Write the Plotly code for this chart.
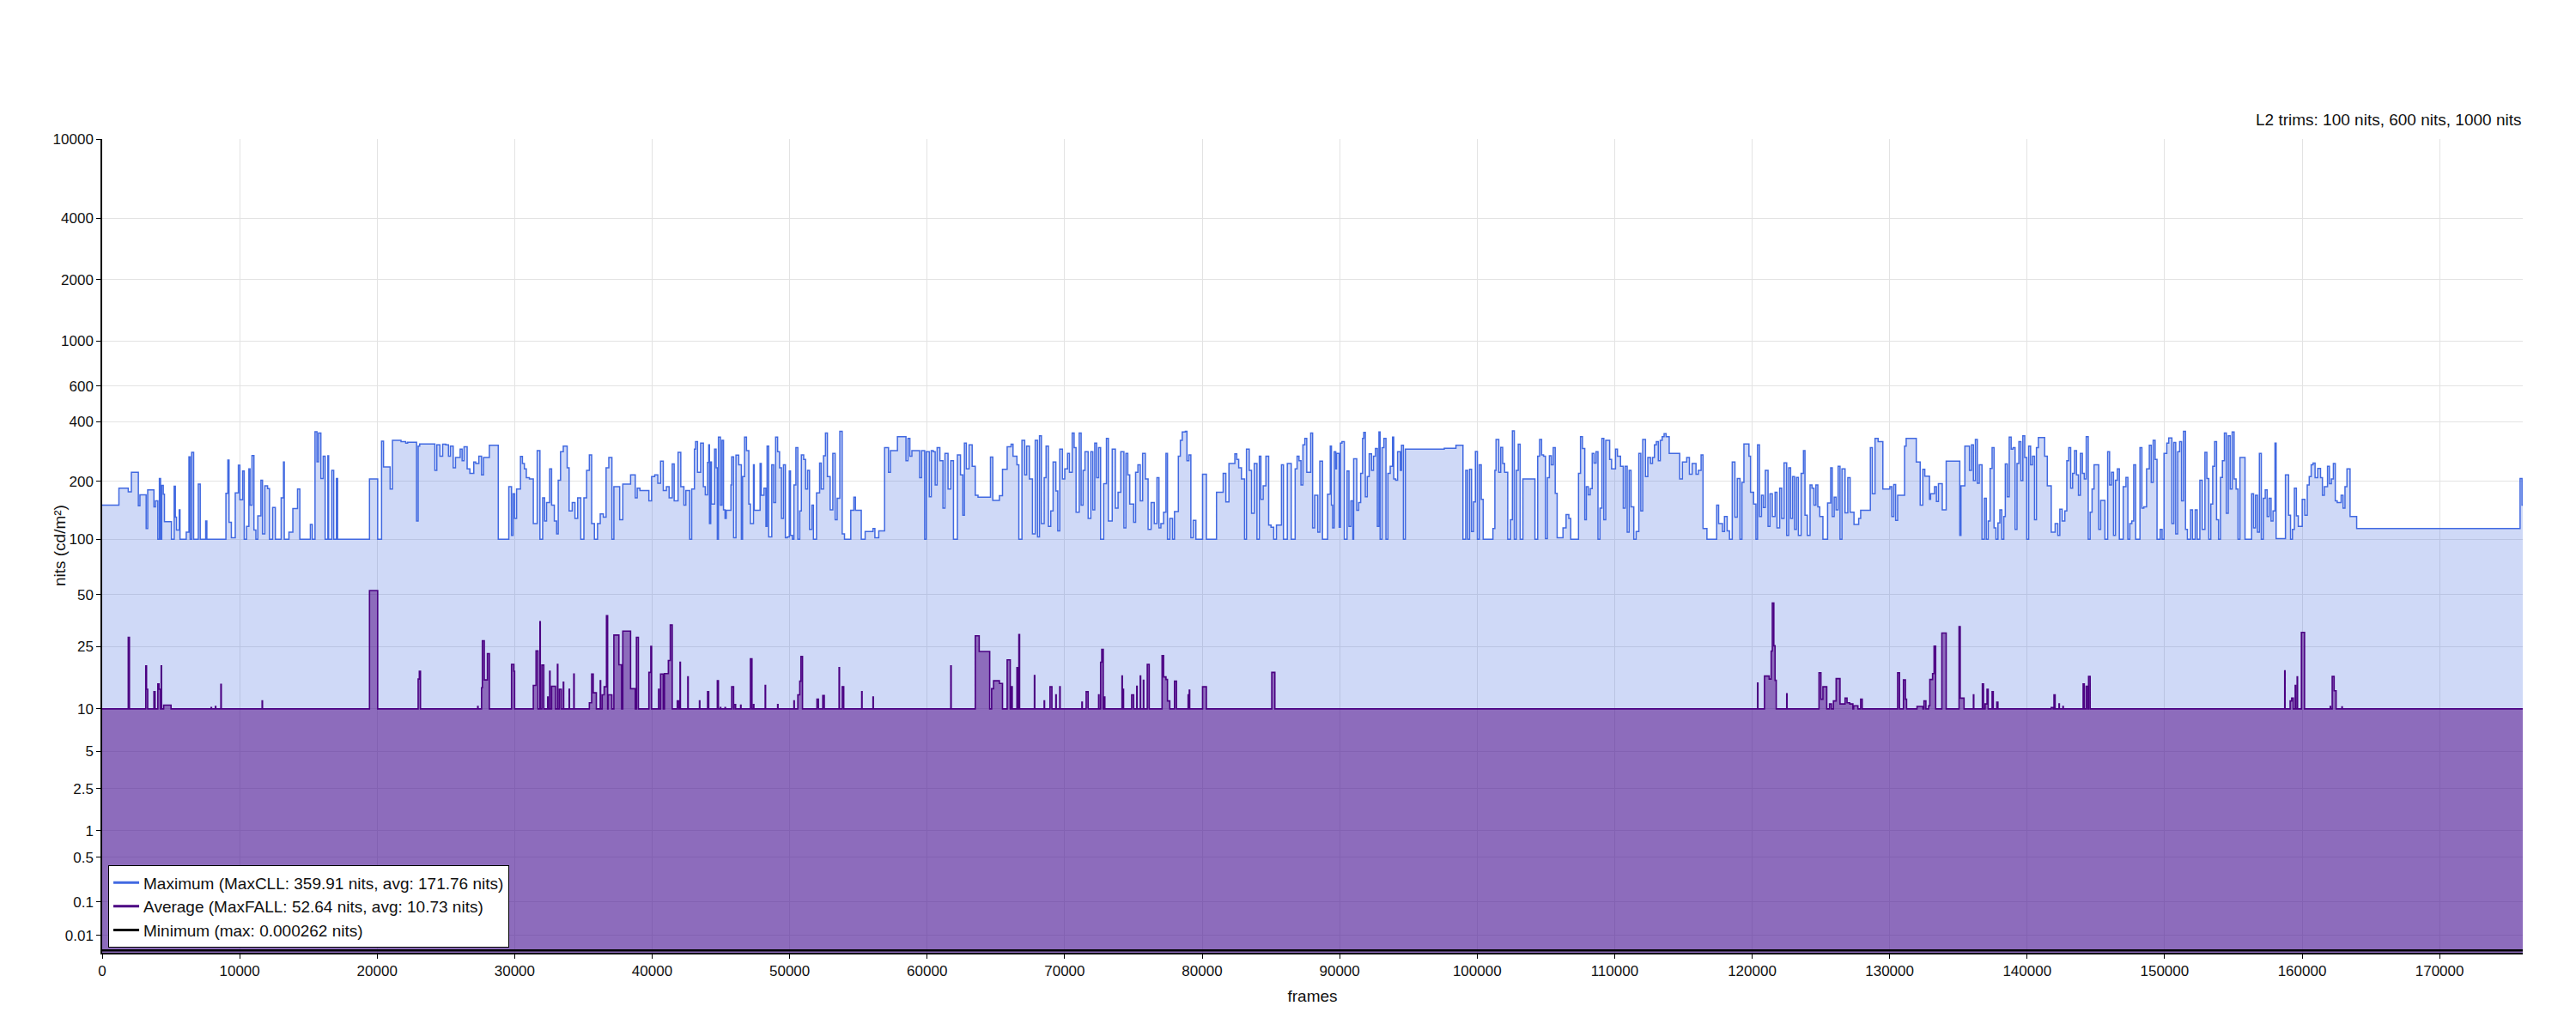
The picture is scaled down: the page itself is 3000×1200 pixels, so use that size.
import numpy as np
import plotly.graph_objects as go

N_FRAMES = 176050

# y axis ticks (nits), drawn on a PQ scale
y_ticks = [10000, 4000, 2000, 1000, 600, 400, 200, 100, 50, 25, 10, 5, 2.5, 1, 0.5, 0.1, 0.01]
y_tick_text = ["10000", "4000", "2000", "1000", "600", "400", "200", "100", "50", "25",
               "10", "5", "2.5", "1", "0.5", "0.1", "0.01"]
x_ticks = list(range(0, 170001, 10000))

# Maximum per frame, as (first frame, nits) steps
max_steps_0_44k = [
    (0, 151), (1217, 185), (1896, 177), (2123, 223), (2632, 150), (2745, 171), (3198, 114), (3311, 181),
    (3764, 148), (3877, 159), (4047, 100), (4160, 207), (4245, 100), (4330, 191), (4443, 172), (4528, 124),
    (5037, 100), (5236, 189), (5320, 131), (5405, 112), (5603, 143), (5660, 100), (6113, 109), (6311, 267),
    (6396, 100), (6509, 281), (6651, 100), (6990, 194), (7132, 100), (7528, 125), (7613, 100), (9000, 174),
    (9141, 257), (9226, 123), (9396, 102), (9679, 175), (9905, 242), (10018, 161), (10216, 226), (10330, 100),
    (10500, 117), (10669, 232), (10754, 151), (10896, 271), (11037, 112), (11179, 100), (11320, 133),
    (11546, 203), (11660, 107), (11829, 190), (12028, 184), (12169, 100), (12395, 147), (12594, 100),
    (13018, 165), (13188, 251), (13244, 100), (13584, 109), (13867, 145), (14207, 183), (14376, 100),
    (15141, 120), (15282, 100), (15480, 357), (15622, 252), (15735, 351), (15905, 207), (16074, 269),
    (16216, 100), (16414, 270), (16471, 100), (16697, 228), (16839, 100), (17037, 207), (17122, 100),
    (19442, 206), (20036, 100), (20319, 320), (20461, 237), (20942, 183), (21112, 323), (21734, 318),
    (22074, 313), (22216, 316), (22866, 125), (22980, 302), (23093, 310), (24196, 228), (24338, 307),
    (24564, 269), (24763, 309), (24989, 307), (25187, 269), (25329, 302), (25527, 235), (25696, 265),
    (26036, 292), (26178, 255), (26319, 300), (26545, 232), (26744, 220), (27027, 251), (27168, 247),
    (27394, 269), (27593, 216), (27734, 265), (28159, 305), (28809, 100), (29574, 188), (29772, 105),
    (29885, 173), (29998, 129), (30140, 183), (30423, 268), (30564, 247), (30706, 232), (30847, 209),
    (31073, 206), (31356, 121), (31639, 287), (31838, 100), (32036, 165), (32177, 125), (32319, 156),
    (32545, 232), (32687, 151), (32885, 125), (33054, 107), (33168, 203), (33337, 283), (33536, 302),
    (33819, 235), (33960, 141), (34186, 156), (34385, 129), (34583, 165), (34809, 100), (35035, 165),
    (35234, 228), (35432, 273), (35601, 121), (35800, 100), (36026, 121), (36224, 136), (36450, 131),
    (36649, 235), (36847, 265), (37073, 100), (37215, 188), (37639, 127), (37865, 194), (38431, 216),
    (38771, 165), (38913, 185), (39111, 180), (39762, 159), (39960, 212), (40186, 216), (40412, 196),
    (40611, 254), (40809, 180), (41035, 188), (41233, 165), (41460, 246), (41601, 159), (41884, 281),
    (42082, 188), (42309, 151), (42450, 180), (42733, 100), (42875, 183), (43073, 292), (43158, 318),
    (43300, 223), (43526, 313), (43724, 188), (43865, 171),
]
max_steps_44k_88k = [
    (44030, 250), (44115, 307), (44170, 121), (44260, 251), (44315, 153), (44540, 292), (44650, 235),
    (44740, 100), (44820, 335), (44965, 151), (45080, 323), (45190, 143), (45300, 129), (45390, 142),
    (45730, 192), (45785, 267), (45925, 102), (46095, 272), (46295, 243), (46490, 100), (46575, 212),
    (46720, 335), (46860, 287), (47030, 153), (47145, 121), (47370, 243), (47425, 142), (47850, 247),
    (47935, 170), (48135, 185), (48275, 117), (48360, 302), (48475, 103), (48700, 243), (48840, 156),
    (48980, 335), (49125, 283), (49265, 235), (49405, 129), (49550, 243), (49690, 102), (49830, 103),
    (49975, 226), (50060, 105), (50200, 100), (50310, 192), (50455, 297), (50595, 100), (50735, 141),
    (50850, 273), (51020, 259), (51160, 183), (51305, 228), (51445, 113), (51615, 151), (51730, 100),
    (51955, 175), (52180, 248), (52295, 183), (52465, 270), (52605, 351), (52745, 212), (52945, 143),
    (53140, 278), (53310, 127), (53455, 164), (53650, 358), (53820, 107), (53990, 100), (54445, 142),
    (54670, 166), (54785, 142), (55210, 100), (55490, 110), (56060, 114), (56200, 102), (56480, 111),
    (56905, 297), (57190, 223), (57330, 287), (57840, 337), (58460, 255), (58605, 330), (58745, 269),
    (58890, 287), (59455, 209), (59595, 287), (59820, 100), (59935, 283), (60160, 167), (60300, 287),
    (60445, 283), (60585, 192), (60725, 297), (60925, 255), (61150, 146), (61295, 278), (61520, 183),
    (61720, 255), (61915, 100), (62200, 273), (62425, 216), (62595, 134), (62710, 313), (62850, 232),
    (63050, 307), (63275, 239), (63500, 170), (63700, 166), (64605, 266), (64775, 160), (65255, 169),
    (65480, 231), (65820, 300), (66105, 309), (66245, 269), (66530, 243), (66670, 100), (66895, 323),
    (67095, 216), (67235, 302), (67435, 206), (67660, 107), (67860, 323), (68030, 103), (68170, 340),
    (68310, 121), (68510, 209), (68650, 302), (68820, 117), (68990, 141), (69160, 251), (69360, 179),
    (69500, 111), (69645, 292), (69840, 206), (70010, 232), (70210, 278), (70350, 223), (70550, 351),
    (70690, 297), (70830, 139), (71060, 351), (71200, 151), (71340, 228), (71480, 283), (71710, 129),
    (71905, 283), (72050, 143), (72190, 313), (72330, 209), (72470, 297), (72615, 100), (72840, 195),
    (73040, 330), (73180, 125), (73460, 292), (73690, 146), (73885, 176), (74085, 283), (74310, 115),
    (74455, 278), (74595, 216), (74735, 153), (75020, 123), (75160, 223), (75330, 243), (75500, 159),
    (75670, 278), (75870, 206), (76070, 113), (76290, 156), (76520, 121), (76715, 209), (76860, 115),
    (77000, 121), (77200, 139), (77370, 278), (77480, 100), (77650, 129), (77850, 100), (77990, 140),
    (78270, 269), (78415, 323), (78555, 356), (78780, 358), (78895, 255), (79035, 273), (79180, 102),
    (79350, 126), (79545, 100), (80030, 218), (80310, 100), (81045, 176), (81530, 220), (81725, 157),
    (81950, 247), (82380, 276), (82520, 259), (82660, 235), (82860, 206), (83085, 100), (83225, 292),
    (83425, 228), (83595, 137), (83790, 247), (83990, 100), (84160, 269), (84275, 162), (84440, 190),
    (84640, 269), (84840, 119), (85010, 116), (85205, 100), (85405, 119), (85770, 243), (85915, 100),
    (86195, 247), (86480, 100), (86765, 232), (86905, 269), (87045, 255), (87190, 192), (87330, 307),
    (87470, 330), (87610, 223), (87895, 351), (88035, 115), (88180, 170),
]
max_steps_88k_132k = [
    (88415, 109), (88560, 254), (88755, 100), (89125, 172), (89320, 302), (89405, 151), (89490, 115),
    (89605, 283), (89720, 232), (89775, 278), (89970, 116), (90055, 313), (90170, 318), (90340, 100),
    (90540, 226), (90680, 117), (90820, 159), (90960, 100), (91020, 261), (91245, 142), (91385, 156),
    (91530, 220), (91670, 330), (91755, 354), (91870, 167), (92010, 212), (92150, 276), (92320, 228),
    (92460, 269), (92605, 294), (92745, 117), (92860, 356), (92945, 100), (93085, 297), (93225, 330),
    (93370, 100), (93510, 220), (93680, 239), (93850, 335), (93935, 206), (94075, 203), (94215, 283),
    (94415, 228), (94500, 305), (94640, 100), (94780, 292), (97610, 295), (98460, 305), (98970, 100),
    (99170, 228), (99310, 100), (99450, 231), (99595, 110), (99735, 157), (99875, 284), (100020, 100),
    (100160, 243), (100300, 162), (100440, 100), (101150, 114), (101290, 228), (101375, 326), (101575, 223),
    (101715, 298), (101860, 247), (102000, 223), (102225, 100), (102425, 127), (102565, 359.91),
    (102705, 100), (102850, 228), (102990, 309), (103130, 100), (103330, 206), (104205, 100), (104405, 269),
    (104545, 326), (104690, 273), (104830, 269), (104970, 101), (105110, 209), (105255, 270), (105395, 243),
    (105535, 297), (105680, 174), (105820, 102), (106245, 115), (106470, 135), (106670, 129), (106810, 100),
    (107375, 220), (107520, 337), (107660, 294), (107830, 127), (107945, 188), (108085, 171), (108225, 184),
    (108370, 278), (108510, 248), (108650, 283), (108790, 100), (108935, 146), (109075, 330), (109215, 127),
    (109355, 323), (109640, 259), (109780, 232), (110065, 292), (110205, 269), (110430, 239), (110630, 146),
    (110770, 239), (110915, 109), (111055, 228), (111195, 148), (111395, 100), (111565, 110), (111760, 278),
    (111905, 141), (112045, 326), (112245, 212), (112415, 265), (112610, 247), (112755, 265), (112895, 307),
    (113035, 318), (113180, 255), (113320, 323), (113460, 337), (113600, 349), (113745, 337), (113970, 278),
    (114735, 206), (114930, 251), (115245, 265), (115440, 218), (115640, 247), (115920, 218), (116090, 228),
    (116290, 273), (116430, 114), (116715, 100), (117425, 151), (117565, 121), (117845, 110), (117990, 132),
    (118185, 111), (118355, 100), (118555, 251), (118750, 131), (118920, 207), (119120, 100), (119260, 198),
    (119405, 310), (119770, 269), (119885, 176), (120110, 153), (120280, 100), (120395, 307), (120535, 132),
    (120680, 170), (120820, 147), (120960, 228), (121160, 117), (121300, 173), (121470, 132), (121670, 176),
    (121810, 115), (122005, 185), (122150, 129), (122320, 249), (122515, 105), (122660, 235), (122800, 129),
    (122940, 212), (123085, 113), (123225, 210), (123365, 105), (123565, 220), (123735, 287), (123845, 134),
    (124015, 105), (124215, 192), (124355, 185), (124500, 151), (124640, 192), (124780, 148), (124920, 132),
    (125150, 100), (125490, 155), (125715, 235), (125830, 132), (125970, 166), (126110, 143), (126255, 239),
    (126395, 100), (126535, 232), (126760, 138), (126960, 209), (127130, 139), (127410, 120), (127750, 129),
    (127895, 142), (128600, 297), (128743, 173), (128940, 330), (129165, 318), (129510, 183), (130015, 188),
    (130160, 132), (130300, 193), (130440, 126), (130585, 170), (131090, 302), (131205, 330), (131940, 251),
    (132225, 151),
]
max_steps_132k_end = [
    (132416, 231), (132560, 213), (132900, 162), (132980, 173), (133265, 188), (133405, 158), (133550, 195),
    (133830, 143), (134115, 254), (135105, 105), (135190, 190), (135475, 302), (135810, 228), (135955, 307),
    (136095, 202), (136240, 326), (136380, 196), (136520, 243), (136720, 100), (136890, 164), (137030, 100),
    (137170, 125), (137310, 233), (137455, 297), (137595, 115), (137735, 100), (137880, 122), (138020, 143),
    (138160, 100), (138305, 132), (138415, 246), (138560, 167), (138700, 335), (138840, 292), (138980, 297),
    (139125, 113), (139265, 247), (139405, 318), (139550, 202), (139690, 340), (139830, 265), (139975, 100),
    (140115, 302), (140255, 243), (140395, 269), (140540, 127), (140680, 297), (140820, 334), (141275, 269),
    (141470, 190), (141755, 109), (142040, 121), (142235, 105), (142380, 144), (142550, 125), (142745, 141),
    (142890, 255), (143030, 297), (143170, 185), (143310, 220), (143450, 287), (143595, 216), (143735, 170),
    (143875, 278), (144020, 220), (144160, 206), (144300, 337), (144445, 100), (144585, 139), (144725, 183),
    (144870, 243), (145210, 113), (145350, 160), (145660, 100), (145860, 283), (146000, 192), (146140, 223),
    (146285, 105), (146425, 203), (146565, 232), (146710, 100), (146990, 188), (147190, 210), (147330, 100),
    (147470, 121), (147615, 125), (147755, 243), (147895, 100), (148210, 297), (148350, 146), (148490, 148),
    (148690, 232), (148890, 305), (149030, 198), (149170, 323), (149310, 259), (149450, 100), (149680, 113),
    (149820, 100), (149960, 278), (150160, 313), (150300, 332), (150530, 121), (150670, 315), (150810, 107),
    (150950, 283), (151095, 318), (151235, 159), (151375, 358), (151520, 113), (151660, 100), (151885, 143),
    (152030, 100), (152225, 143), (152370, 100), (152565, 203), (152735, 113), (152935, 281), (153075, 207),
    (153215, 100), (153360, 153), (153500, 239), (153640, 318), (153780, 127), (153925, 100), (154065, 210),
    (154205, 255), (154350, 351), (154490, 137), (154630, 340), (154775, 183), (154915, 356), (155055, 206),
    (155200, 183), (155340, 100), (155480, 265), (155850, 100), (156330, 173), (156470, 115), (156610, 170),
    (156755, 109), (156895, 278), (157035, 100), (157180, 164), (157320, 181), (157460, 132), (157600, 164),
    (157745, 125), (157885, 141), (158030, 313), (158110, 101), (158790, 216), (159020, 134), (159160, 100),
    (159300, 113), (159440, 185), (159585, 133), (159725, 117), (160010, 162), (160205, 134), (160375, 192),
    (160520, 212), (160660, 243), (160800, 248), (160945, 209), (161140, 233), (161340, 209), (161480, 170),
    (161620, 188), (161850, 239), (161990, 195), (162130, 206), (162275, 247), (162415, 159), (162555, 156),
    (162840, 170), (162980, 146), (163120, 188), (163265, 232), (163490, 132), (163970, 114), (175855, 207),
    (175995, 151),
]

# Average per frame: baseline plus (first frame, last frame, nits) bumps
avg_base = 10.0
avg_bumps = [
    (1896, 1981, 28.3), (3170, 3226, 19.0), (3226, 3311, 13.5), (3764, 3849, 13.0), (4047, 4132, 14.6),
    (4132, 4245, 13.5), (4290, 4320, 19.0), (4471, 5009, 10.6), (7924, 7954, 10.2), (8235, 8265, 10.4),
    (8632, 8662, 14.5), (11631, 11661, 11.3), (19442, 20036, 52.64), (22980, 23065, 15.7),
    (23065, 23150, 17.6), (27310, 27340, 10.4), (27593, 27650, 13.8), (27650, 27790, 27.0),
    (27790, 28017, 15.5), (28017, 28160, 22.6), (29772, 29942, 19.4), (29942, 29998, 17.6),
    (31356, 31555, 14.3), (31555, 31696, 23.5), (31838, 31866, 35.0), (31979, 32120, 19.2),
    (32403, 32433, 12.0), (32545, 32575, 17.6), (32687, 32970, 14.1), (33111, 33141, 19.4),
    (33253, 33394, 13.5), (33536, 33566, 15.0), (33960, 33990, 13.5), (34300, 34330, 16.9),
    (35432, 35600, 11.0), (35600, 35715, 16.9), (35715, 35941, 12.8), (36224, 36254, 15.3),
    (36365, 36507, 12.4), (36507, 36677, 14.0), (36677, 36762, 37.9), (36790, 37073, 12.4),
    (37215, 37582, 29.2), (37582, 37780, 19.3), (37865, 38431, 30.8), (38431, 38771, 13.6),
    (38856, 38998, 28.3), (39762, 39903, 17.3), (39903, 39960, 25.0), (40469, 40499, 13.5),
    (40611, 40809, 16.9), (40894, 41177, 17.0), (41177, 41318, 20.5), (41318, 41460, 33.5),
    (41827, 41940, 11.3), (42026, 42056, 20.0), (42592, 42622, 16.2), (43440, 43470, 11.3),
    (44030, 44115, 13.0), (44740, 44820, 15.3), (44965, 44990, 10.2), (45300, 45330, 10.2),
    (45785, 45925, 14.0), (45955, 46070, 10.7), (46435, 46465, 10.6), (47145, 47260, 21.0),
    (47370, 47400, 10.7), (48220, 48250, 14.3), (49125, 49155, 10.7), (50310, 50340, 11.3),
    (50595, 50735, 12.4), (50735, 50820, 15.2), (50820, 50935, 21.7), (51985, 52095, 11.6),
    (52410, 52520, 12.3), (53595, 53625, 18.5), (53820, 53935, 14.0), (55240, 55270, 13.0),
    (56060, 56090, 12.0), (61720, 61750, 19.0), (63500, 63785, 28.9), (63785, 64550, 23.3),
    (64690, 64830, 13.6), (64830, 65255, 15.3), (65255, 65480, 14.7), (65820, 66045, 20.7),
    (66105, 66190, 14.0), (66530, 66615, 18.5), (66670, 66725, 29.4), (67800, 67830, 16.5),
    (68510, 68540, 11.3), (68935, 69075, 14.0), (69360, 69390, 12.4), (69645, 69675, 14.0),
    (71255, 71285, 11.1), (71565, 71710, 13.0), (72470, 72500, 12.4), (72615, 72700, 20.0),
    (72700, 72810, 24.0), (72895, 72925, 12.0), (74170, 74200, 16.4), (74255, 74285, 13.5),
    (74875, 75020, 12.4), (75245, 75275, 14.1), (75500, 75530, 16.4), (75725, 75755, 15.4),
    (76010, 76150, 19.4), (77085, 77200, 22.0), (77200, 77370, 16.2), (77370, 77480, 15.6),
    (77480, 77650, 11.3), (77990, 78135, 15.2), (78980, 79010, 12.4), (79065, 79095, 13.3),
    (80030, 80310, 14.0), (85065, 85290, 17.3),
    (120395, 120425, 14.8), (120900, 121240, 16.4), (121240, 121385, 15.7), (121385, 121470, 23.4),
    (121470, 121580, 44.7), (121580, 121670, 25.2), (121670, 121755, 15.4), (122515, 122545, 12.6),
    (124865, 125005, 17.2), (125005, 125150, 11.6), (125150, 125430, 14.0), (125630, 125770, 10.8),
    (125915, 126110, 11.3), (126110, 126395, 15.8), (126395, 126760, 10.8), (126760, 126905, 11.8),
    (126905, 127100, 11.0), (127100, 127330, 10.8), (127385, 127695, 10.5), (127895, 128010, 11.6),
    (130585, 130725, 17.2), (131005, 131150, 15.5), (131150, 131235, 11.6), (131995, 132420, 10.4),
    (132500, 132640, 11.3), (132840, 132925, 10.5), (132925, 133125, 15.6), (133125, 133235, 17.0),
    (133235, 133350, 25.1), (133800, 134115, 30.0), (135050, 135135, 32.7), (135135, 135415, 11.8),
    (136095, 136125, 12.4), (136745, 136830, 14.6), (136945, 137085, 10.8), (137085, 137170, 13.5),
    (137455, 137540, 13.0), (137795, 137880, 11.1), (141755, 141895, 10.2), (141955, 142040, 12.4),
    (142320, 142350, 10.8), (142605, 142635, 10.4), (144075, 144160, 14.6), (144300, 144415, 14.1),
    (144470, 144585, 16.3), (158735, 158765, 17.7), (159130, 159245, 11.3), (159245, 159360, 11.8),
    (159500, 159530, 14.3), (159640, 159670, 16.2), (159950, 160180, 30.3), (162045, 162075, 10.4),
    (162190, 162330, 16.3), (162330, 162475, 13.2), (162895, 162925, 10.3),
]

# Minimum per frame
min_frames = [0, 60000, 120000]
min_nits = [0.00024, 0.000262, 0.00025]


def pq(nits):
    # SMPTE ST 2084 inverse EOTF, nits -> 0..1
    m1, m2 = 2610 / 16384, 2523 / 32
    c1, c2, c3 = 3424 / 4096, 2413 / 128, 2392 / 128
    y = np.asarray(nits, dtype=float) / 10000.0
    ym = y ** m1
    return ((c1 + c2 * ym) / (1 + c3 * ym)) ** m2


max_steps = max_steps_0_44k + max_steps_44k_88k + max_steps_88k_132k + max_steps_132k_end
max_x = [f for f, _ in max_steps] + [N_FRAMES]
max_y = [v for _, v in max_steps] + [max_steps[-1][1]]

avg_x, avg_y = [0], [avg_base]
for start, end, v in avg_bumps:
    if avg_x[-1] == start:
        avg_y[-1] = v
    else:
        avg_x.append(start)
        avg_y.append(v)
    avg_x.append(end)
    avg_y.append(avg_base)
avg_x.append(N_FRAMES)
avg_y.append(avg_base)

min_x = min_frames + [N_FRAMES]
min_y = min_nits + [min_nits[-1]]

BLUE = "#4169e1"
INDIGO = "#4b0082"

fig = go.Figure()

fig.add_trace(go.Scatter(
    x=max_x, y=pq(max_y), mode="lines", line=dict(color=BLUE, width=1.5, shape="hv"),
    fill="tozeroy", fillcolor="rgba(65,105,225,0.25)", showlegend=False, hoverinfo="skip"))
fig.add_trace(go.Scatter(
    x=avg_x, y=pq(avg_y), mode="lines", line=dict(color=INDIGO, width=1.6, shape="hv"),
    fill="tozeroy", fillcolor="rgba(75,0,130,0.5)", showlegend=False, hoverinfo="skip"))
fig.add_trace(go.Scatter(
    x=min_x, y=pq(min_y), mode="lines", line=dict(color="black", width=2.5, shape="hv"),
    showlegend=False, hoverinfo="skip"))

# legend entries (plain line samples)
legend_items = [
    ("Maximum (MaxCLL: 359.91 nits, avg: 171.76 nits)", BLUE),
    ("Average (MaxFALL: 52.64 nits, avg: 10.73 nits)", INDIGO),
    ("Minimum (max: 0.000262 nits)", "black"),
]
for name, color in legend_items:
    fig.add_trace(go.Scatter(x=[None], y=[None], mode="lines", name=name,
                             line=dict(color=color, width=3)))

# page body has an 8px margin, so the figure is 16px smaller than the window
fig.update_layout(
    width=2984, height=1184,
    margin=dict(l=111, r=54, t=154, b=82),
    plot_bgcolor="white", paper_bgcolor="white",
    font=dict(family="Liberation Sans, Arial, sans-serif", size=17, color="#111"),
    legend=dict(x=0.0025, y=0.006, xanchor="left", yanchor="bottom",
                bgcolor="white", bordercolor="black", borderwidth=1,
                font=dict(size=19), tracegroupgap=0),
    annotations=[
        dict(text="L2 trims: 100 nits, 600 nits, 1000 nits", xref="paper", yref="paper",
             x=1, y=1, xanchor="right", yanchor="bottom", yshift=10, showarrow=False,
             font=dict(size=19)),
        dict(text="nits (cd/m²)", xref="paper", yref="paper", x=-0.0177, y=0.5,
             xanchor="center", yanchor="middle", textangle=-90, showarrow=False,
             font=dict(size=19)),
    ],
)
fig.update_xaxes(
    range=[0, N_FRAMES], tickmode="array", tickvals=x_ticks, ticktext=[str(t) for t in x_ticks],
    showgrid=True, gridcolor="#e3e3e3", gridwidth=1, zeroline=False,
    showline=True, linecolor="black", linewidth=1.5, ticks="outside", ticklen=5, tickcolor="black",
    title=dict(text="frames", font=dict(size=19), standoff=14),
)
fig.update_yaxes(
    range=[0, 1], tickmode="array", tickvals=pq(y_ticks), ticktext=y_tick_text,
    showgrid=True, gridcolor="#e3e3e3", gridwidth=1, zeroline=False,
    showline=True, linecolor="black", linewidth=1.5, ticks="outside", ticklen=5, tickcolor="black",
)

fig.write_html("out.html")
